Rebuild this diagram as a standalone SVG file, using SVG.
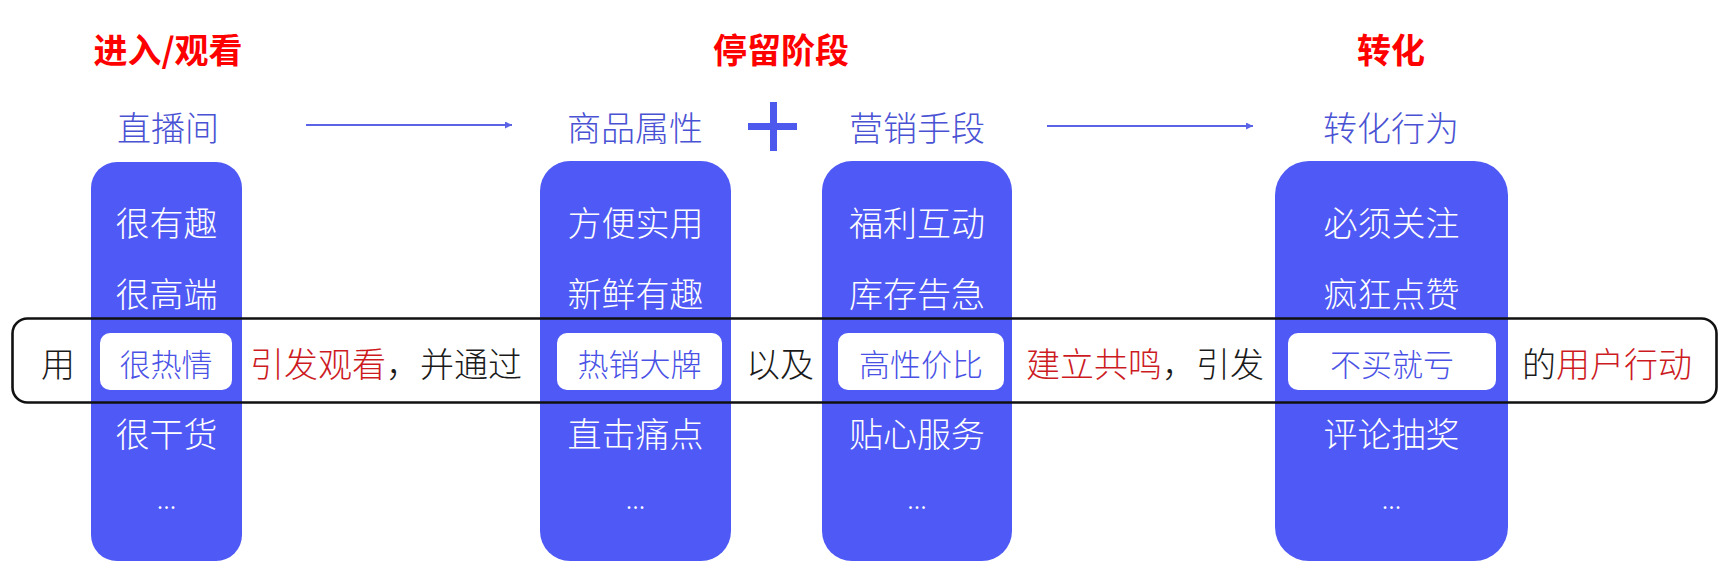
<svg xmlns="http://www.w3.org/2000/svg" width="1724" height="568" viewBox="0 0 1724 568">
<style>
text{font-family:"Noto Sans CJK SC","Noto Sans",sans-serif;dominant-baseline:central;font-weight:300;}
.stage{font-size:34px;font-weight:bold;fill:#ff0000;text-anchor:middle;}
.head{font-size:34px;fill:#4a52d4;text-anchor:middle;}
.box{fill:#4f59f5;}
.item{font-size:34px;fill:#ffffff;text-anchor:middle;}
.dots{font-size:26px;fill:#ffffff;text-anchor:middle;dominant-baseline:auto;}
.pill{fill:#ffffff;}
.ptxt{font-size:31px;fill:#4a52e6;text-anchor:middle;}
.band{font-size:34px;fill:#1a1a1a;}
.red{fill:#cc1a1f;}
.conn{stroke:#5a62e6;stroke-width:1.8;fill:none;}
</style>
<defs>
<marker id="ah" viewBox="0 0 10 10" refX="10" refY="5" markerWidth="7" markerHeight="7" markerUnits="userSpaceOnUse" orient="auto">
<path d="M0,0 L10,5 L0,10 z" fill="#5a62e6"/>
</marker>
</defs>
<g id="stages">
<text class="stage" x="168" y="48">进入/观看</text>
<text class="stage" x="781" y="48">停留阶段</text>
<text class="stage" x="1391" y="48">转化</text>
</g>
<g id="headers">
<text class="head" x="168" y="126">直播间</text>
<text class="head" x="635" y="126">商品属性</text>
<text class="head" x="917" y="126">营销手段</text>
<text class="head" x="1391" y="126">转化行为</text>
</g>
<g id="plus">
<rect x="748" y="123" width="49" height="7" fill="#4d58ec"/>
<rect x="770" y="102" width="7" height="49" fill="#4d58ec"/>
</g>
<g id="connectors">
<line class="conn" x1="306" y1="125" x2="512" y2="125" marker-end="url(#ah)"/>
<line class="conn" x1="1047" y1="126" x2="1253" y2="126" marker-end="url(#ah)"/>
</g>
<g id="box1">
<rect class="box" x="91" y="162" width="151" height="399" rx="26"/>
<text class="item" x="166.5" y="221">很有趣</text>
<text class="item" x="166.5" y="292">很高端</text>
<text class="item" x="166.5" y="432">很干货</text>
<text class="dots" x="166.5" y="509">...</text>
</g>
<g id="box2">
<rect class="box" x="540" y="161" width="191" height="400" rx="30"/>
<text class="item" x="635.5" y="221">方便实用</text>
<text class="item" x="635.5" y="292">新鲜有趣</text>
<text class="item" x="635.5" y="432">直击痛点</text>
<text class="dots" x="635.5" y="509">...</text>
</g>
<g id="box3">
<rect class="box" x="822" y="161" width="190" height="400" rx="30"/>
<text class="item" x="917" y="221">福利互动</text>
<text class="item" x="917" y="292">库存告急</text>
<text class="item" x="917" y="432">贴心服务</text>
<text class="dots" x="917" y="509">...</text>
</g>
<g id="box4">
<rect class="box" x="1275" y="161" width="233" height="400" rx="34"/>
<text class="item" x="1391.5" y="221">必须关注</text>
<text class="item" x="1391.5" y="292">疯狂点赞</text>
<text class="item" x="1391.5" y="432">评论抽奖</text>
<text class="dots" x="1391.5" y="509">...</text>
</g>
<g id="band">
<rect x="12.5" y="318.5" width="1704" height="84" rx="15" fill="none" stroke="#111111" stroke-width="2.6"/>
<text class="band" x="58" y="362" text-anchor="middle">用</text>
<text class="band" x="250" y="362"><tspan class="red">引发观看</tspan>，并通过</text>
<text class="band" x="746" y="362">以及</text>
<text class="band" x="1026" y="362"><tspan class="red">建立共鸣</tspan>，引发</text>
<text class="band" x="1522" y="362">的<tspan class="red">用户行动</tspan></text>
</g>
<g id="pill1">
<rect class="pill" x="100" y="333" width="132" height="57" rx="10"/>
<text class="ptxt" x="166" y="362">很热情</text>
</g>
<g id="pill2">
<rect class="pill" x="557" y="333" width="165" height="57" rx="10"/>
<text class="ptxt" x="639.5" y="362">热销大牌</text>
</g>
<g id="pill3">
<rect class="pill" x="838" y="333" width="166" height="57" rx="10"/>
<text class="ptxt" x="921" y="362">高性价比</text>
</g>
<g id="pill4">
<rect class="pill" x="1288" y="333" width="208" height="57" rx="10"/>
<text class="ptxt" x="1392" y="362">不买就亏</text>
</g>
</svg>
